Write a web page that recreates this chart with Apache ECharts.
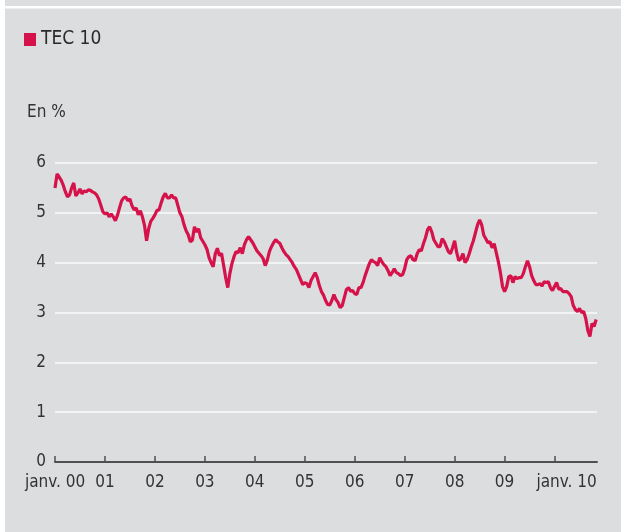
<!DOCTYPE html>
<html lang="fr">
<head>
    <meta charset="utf-8">
    <title>TEC 10</title>
    <script src="https://cdn.jsdelivr.net/npm/echarts@6/dist/echarts.min.js"></script>
    <style>
        html, body { margin: 0; padding: 0; background: #dcdddf; }
        #chart { width: 621px; height: 532px; }
    </style>
</head>
<body>
<div id="chart"></div>
<script>
    // TEC 10, en %, relevé tous les demi-mois depuis janv. 2000
    var startYear = 2000;
    var stepsPerYear = 24;

    var rate2000 = [5.50, 5.78, 5.72, 5.65, 5.55, 5.42, 5.32, 5.36, 5.50, 5.60, 5.34, 5.40,
                    5.48, 5.38, 5.44, 5.42, 5.46, 5.45, 5.42, 5.40, 5.36, 5.28, 5.15, 5.02];
    var rate2001 = [4.98, 5.00, 4.92, 4.98, 4.92, 4.84, 4.95, 5.10, 5.24, 5.30, 5.32, 5.24,
                    5.28, 5.14, 5.06, 5.10, 4.96, 5.04, 4.92, 4.75, 4.44, 4.68, 4.83, 4.89];
    var rate2002 = [4.96, 5.05, 5.06, 5.20, 5.32, 5.39, 5.30, 5.30, 5.36, 5.30, 5.30, 5.15,
                    5.00, 4.92, 4.76, 4.64, 4.56, 4.42, 4.45, 4.72, 4.62, 4.68, 4.50, 4.43];
    var rate2003 = [4.36, 4.27, 4.10, 4.00, 3.92, 4.18, 4.29, 4.14, 4.19, 3.95, 3.70, 3.50,
                    3.78, 3.98, 4.12, 4.22, 4.20, 4.30, 4.18, 4.36, 4.46, 4.52, 4.46, 4.40];
    var rate2004 = [4.32, 4.24, 4.19, 4.14, 4.08, 3.94, 4.05, 4.22, 4.32, 4.40, 4.46, 4.42,
                    4.39, 4.30, 4.22, 4.16, 4.12, 4.06, 4.00, 3.92, 3.86, 3.76, 3.66, 3.56];
    var rate2005 = [3.60, 3.58, 3.50, 3.64, 3.72, 3.80, 3.70, 3.54, 3.42, 3.35, 3.24, 3.16,
                    3.15, 3.24, 3.36, 3.26, 3.20, 3.10, 3.14, 3.30, 3.46, 3.50, 3.43, 3.44];
    var rate2006 = [3.38, 3.36, 3.50, 3.50, 3.60, 3.74, 3.86, 3.98, 4.06, 4.02, 4.00, 3.94,
                    4.10, 4.02, 3.96, 3.92, 3.84, 3.74, 3.80, 3.88, 3.80, 3.78, 3.74, 3.76];
    var rate2007 = [3.88, 4.06, 4.12, 4.14, 4.06, 4.04, 4.18, 4.26, 4.24, 4.38, 4.50, 4.66,
                    4.72, 4.62, 4.46, 4.39, 4.32, 4.32, 4.48, 4.42, 4.32, 4.22, 4.18, 4.30];
    var rate2008 = [4.44, 4.20, 4.04, 4.08, 4.18, 4.00, 4.06, 4.18, 4.32, 4.44, 4.60, 4.76,
                    4.86, 4.76, 4.55, 4.48, 4.40, 4.42, 4.30, 4.38, 4.20, 4.02, 3.80, 3.52];
    var rate2009 = [3.42, 3.52, 3.72, 3.74, 3.60, 3.72, 3.68, 3.70, 3.70, 3.78, 3.92, 4.04,
                    3.92, 3.74, 3.64, 3.56, 3.56, 3.58, 3.53, 3.62, 3.60, 3.62, 3.50, 3.44];
    var rate2010 = [3.52, 3.60, 3.47, 3.48, 3.42, 3.42, 3.42, 3.38, 3.32, 3.14, 3.06, 3.02,
                    3.08, 3.00, 3.02, 2.88, 2.64, 2.52, 2.78, 2.72, 2.86];

    var yearTicks = [2000, 2001, 2002, 2003, 2004, 2005, 2006, 2007, 2008, 2009, 2010];
    var yearLabels = ['janv. 00', '01', '02', '03', '04', '05', '06', '07', '08', '09', 'janv. 10'];

    var rates = [].concat(rate2000, rate2001, rate2002, rate2003, rate2004, rate2005,
                          rate2006, rate2007, rate2008, rate2009, rate2010);
    var seriesData = rates.map(function (v, i) {
        return [startYear + i / stepsPerYear, v];
    });

    var font = "'Liberation Sans Narrow', 'DejaVu Sans Condensed', sans-serif";
    var red = '#d5124a';

    var option = {
        backgroundColor: '#dcdddf',
        animation: false,
        textStyle: { fontFamily: font },
        graphic: [
            { type: 'rect', shape: { x: 0, y: 0, width: 5, height: 532 }, style: { fill: '#fff' } },
            { type: 'rect', shape: { x: 5, y: 6, width: 616, height: 2.5 }, style: { fill: '#fff' } }
        ],
        title: {
            text: 'En %',
            left: 22,
            top: 99,
            textStyle: { fontFamily: font, fontSize: 17, fontWeight: 'normal', color: '#333' }
        },
        legend: {
            left: 24,
            top: 30,
            padding: 0,
            icon: 'rect',
            itemWidth: 12,
            itemHeight: 13,
            data: ['TEC 10'],
            textStyle: { fontFamily: font, fontSize: 19, color: '#2a2a2a' }
        },
        grid: { left: 55, right: 24, top: 163, bottom: 70 },
        xAxis: {
            type: 'value',
            min: 2000,
            max: 2010.85,
            interval: 1,
            splitLine: { show: false },
            axisLine: { lineStyle: { color: '#505050', width: 2 } },
            axisTick: {
                customValues: yearTicks,
                inside: true,
                length: 6,
                lineStyle: { color: '#505050', width: 1.5 }
            },
            axisLabel: {
                customValues: yearTicks,
                margin: 12,
                fontFamily: font,
                fontSize: 17,
                color: '#333',
                formatter: function (v) {
                    var label = yearLabels[Math.round(v) - 2000];
                    return v >= 2010 ? '{last|' + label + '}' : label;
                },
                rich: {
                    last: { fontFamily: font, fontSize: 17, color: '#333', padding: [0, 0, 0, 24] }
                }
            }
        },
        yAxis: {
            type: 'value',
            min: 0,
            max: 6,
            interval: 1,
            axisLine: { show: false },
            axisTick: { show: false },
            axisLabel: { margin: 9, fontFamily: font, fontSize: 17, color: '#333' },
            splitLine: { lineStyle: { color: '#fafafa', width: 1.6 } }
        },
        series: [{
            name: 'TEC 10',
            type: 'line',
            data: seriesData,
            showSymbol: false,
            color: red,
            lineStyle: { color: red, width: 3.2 }
        }]
    };

    var chart = echarts.init(document.getElementById('chart'));
    chart.setOption(option);
</script>
</body>
</html>
